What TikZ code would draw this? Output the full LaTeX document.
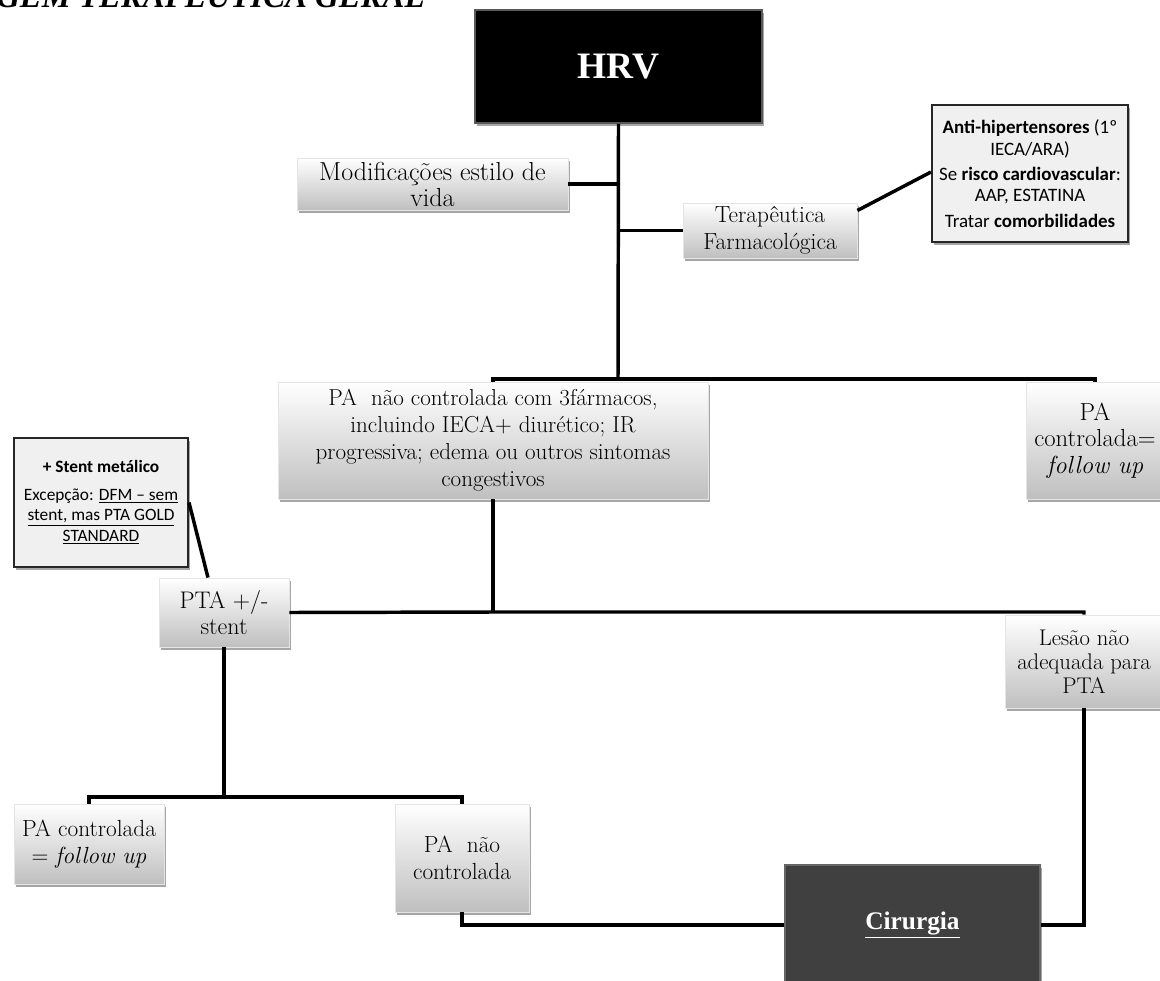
\documentclass[tikz,border=0pt]{standalone}
\usepackage{fontspec}
\newfontfamily\calib{Carlito}
\newfontfamily\tnr{Liberation Serif}
\usetikzlibrary{shadows,calc}

\tikzset{
  sz/.style 2 args={minimum width=#1*0.75pt, minimum height=#2*0.75pt},
  boxshadow/.style={drop shadow={shadow xshift=1.5pt, shadow yshift=-2pt, opacity=0.35, fill=black}},
  soft/.style={rectangle, inner sep=0pt, align=center, boxshadow,
    top color=white, bottom color=black!25, draw=black!10, line width=0.6pt},
  note/.style={rectangle, inner sep=0pt, align=center, boxshadow,
    fill=black!6, draw=black!85, line width=1.5pt},
  dark/.style={rectangle, inner sep=0pt, align=center, boxshadow, text=white},
  link/.style={line width=2.6pt}
}

\begin{document}
\begin{tikzpicture}[x=0.75pt,y=-0.75pt]
\useasboundingbox (0,0) rectangle (1160,981);
\clip (0,0) rectangle (1160,981);

% heading, partly cut by the page edge
\node[anchor=base west, inner sep=0pt,
      font=\tnr\bfseries\itshape\fontsize{24.6}{24.6}\selectfont] (title) at (-4,8)
  {GEM TERAPÊUTICA GERAL};

% boxes
\node[dark, sz={287}{113}, fill=black, draw=black!65, line width=1.2pt,
      font=\tnr\bfseries\fontsize{28}{28}\selectfont] (hrv) at (618.5,66.5) {HRV};

\node[soft, sz={271}{52}, font=\fontsize{19.5}{19.5}\selectfont] (mod) at (432.5,184)
  {Modificações estilo de\\vida};

\node[soft, sz={174}{55}, font=\fontsize{17.5}{20}\selectfont] (tera) at (770,230.5)
  {Terapêutica\\Farmacológica};

\node[note, sz={196}{137}, font=\calib\fontsize{14.2}{16}\selectfont] (info) at (1030,173.5)
  {\textbf{Anti-hipertensores} (1º\\IECA/ARA)\\[3pt]
   Se \textbf{risco cardiovascular}:\\AAP, ESTATINA\\[3pt]
   Tratar \textbf{comorbilidades}};

\node[soft, sz={430}{117}, font=\fontsize{17.3}{20.3}\selectfont] (pa) at (493,440.5)
  {PA\ \ não controlada com 3fármacos,\\incluindo IECA+ diurético; IR\\
   progressiva; edema ou outros sintomas\\congestivos};

\node[soft, sz={138}{117}, font=\fontsize{18.5}{20}\selectfont] (pac) at (1095,440.5)
  {PA\\controlada=\\\textit{follow up}};

\node[note, sz={174}{129}, font=\calib\fontsize{13}{15.5}\selectfont] (stent) at (101,502.5)
  {\textbf{+ Stent metálico}\\[5pt]
   Excepção: \underline{DFM – sem}\\\underline{stent, mas PTA GOLD}\\\underline{STANDARD}};

\node[soft, sz={130}{69}, font=\fontsize{18}{20}\selectfont] (pta) at (224,612.5)
  {PTA +/-\\stent};

\node[soft, sz={158}{93}, font=\fontsize{17}{18}\selectfont] (lesao) at (1084,661.5)
  {Lesão não\\adequada para\\PTA};

\node[soft, sz={150}{80}, font=\fontsize{17.5}{20}\selectfont] (pacl) at (89,844)
  {PA controlada\\= \textit{follow up}};

\node[soft, sz={134}{108}, font=\fontsize{17.5}{20}\selectfont] (panc) at (462,858)
  {PA\ \ não\\controlada};

\node[dark, sz={255}{120}, fill=black!75, draw=black!60, line width=0.8pt,
      font=\tnr\bfseries\fontsize{19}{20}\selectfont] (cir) at (912.5,925)
  {\underline{Cirurgia}};

% connectors
\coordinate (busA) at (618,379);
\coordinate (busB) at (493,612);
\coordinate (busC) at (224,797);

\draw[link] (hrv.south) -- (busA);
\draw[link] (mod.east) -- (mod.east -| busA);
\draw[link] (tera.west) -- (tera.west -| busA);
\draw[link] ($(tera.east)+(0,-20)$) -- ($(info.west)+(0,-1.5)$);
\draw[link] (pa.north) |- (busA) -| (pac.north);
\draw[link] (pa.south) -- (busB);
\draw[link] (pta.east) -- (busB) -| (lesao.north);
\draw[link] (stent.east) -- ($(pta.north)+(-16,0)$);
\draw[link] (pta.south) -- (busC);
\draw[link] (pacl.north) |- (busC) -| (panc.north);
\draw[link] (panc.south) |- (cir.west);
\draw[link] (lesao.south) |- (cir.east);
\end{tikzpicture}
\end{document}
